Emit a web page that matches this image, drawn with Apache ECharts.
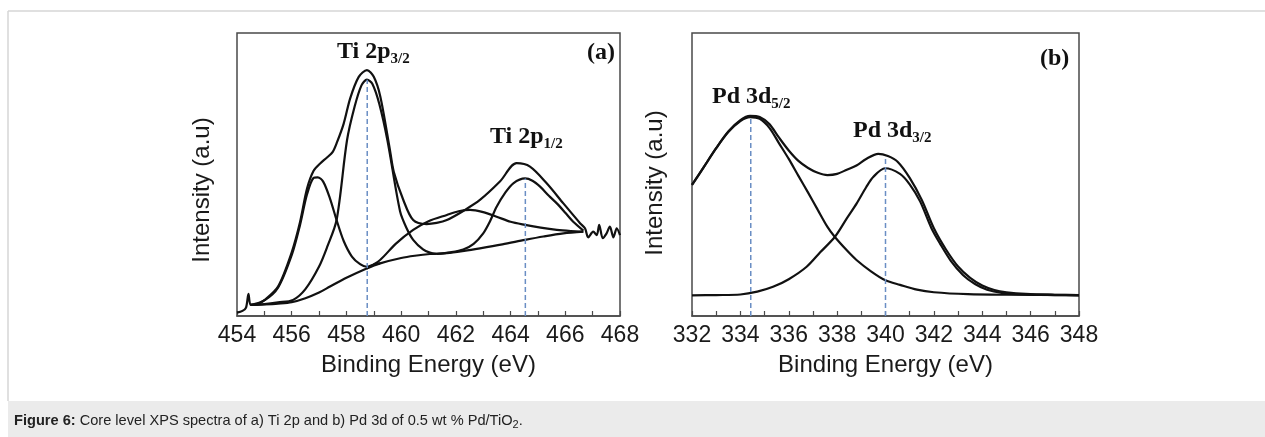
<!DOCTYPE html>
<html><head><meta charset="utf-8">
<script src="https://cdn.jsdelivr.net/npm/echarts@6/dist/echarts.min.js"></script>
<style>html,body{margin:0;padding:0;background:#fff}#c{width:1265px;height:437px}</style>
</head><body><div id="c"></div>
<script>
// ---------- Panel (a): Ti 2p ----------
const tiEnvelope = [[454.0,1.2],[454.2,1.8],[454.33,3.0],[454.42,7.8],[454.5,3.9],[454.7,4.0],[455.0,5.6],[455.5,10.4],[456.0,22.5],[456.3,33],[456.56,45.0],[456.8,51.3],[457.05,54.0],[457.29,56.0],[457.5,58],[457.66,61.5],[457.9,68],[458.14,77],[458.45,84.5],[458.75,86.9],[459.0,84.5],[459.24,77.5],[459.59,58.7],[459.73,51],[460.08,41.0],[460.44,33.9],[460.93,32.5],[461.3,32.9],[461.67,33.9],[462.3,37.3],[462.88,41.0],[463.61,47.5],[464.22,54.0],[464.71,52.8],[465.32,46.9],[465.93,39.8],[466.54,32.8],[466.72,31.0],[466.84,27.8],[467.02,29.8],[467.15,28.6],[467.24,32.2],[467.37,27.5],[467.51,29.2],[467.63,31.6],[467.76,27.8],[467.88,31.0],[468.0,28.6]];
const tiBackground = [[454.5,3.9],[455.0,4.1],[455.5,4.4],[456.0,4.9],[456.5,6.3],[457.0,8.3],[457.4,10.4],[458.0,13.5],[458.74,16.8],[459.23,18.6],[460.0,20.5],[460.5,21.3],[461.05,21.9],[461.67,22.2],[462.3,23.0],[462.88,23.9],[463.7,25.3],[464.53,26.9],[465.2,28.1],[465.93,29.2],[466.66,29.8]];
const tiPeak1 = [[454.5,3.9],[455.0,5.5],[455.5,10.0],[456.0,21.5],[456.3,32],[456.56,43],[456.8,48.8],[456.95,49.0],[457.15,47.5],[457.4,41.5],[457.64,33.9],[457.9,26.5],[458.2,21],[458.5,18.3],[458.74,17.4],[459.0,18.2],[459.23,18.6]];
const tiPeak2 = [[454.5,3.9],[455.0,4.2],[455.5,4.8],[456.05,5.7],[456.5,9.5],[457.0,17.5],[457.3,24.5],[457.64,33.9],[458.02,62],[458.3,74],[458.55,81.5],[458.75,83.5],[458.95,82],[459.2,75],[459.5,62],[459.96,37],[460.2,31],[460.44,26.9],[460.8,23.5],[461.05,22.4],[461.3,21.9]];
const tiPeak3 = [[458.74,16.8],[459.23,19.8],[459.8,25.5],[460.44,30.4],[461.0,33.5],[461.67,35.7],[462.1,37.0],[462.52,37.5],[463.0,36.7],[463.49,35.1],[464.0,33.3],[464.53,32.2],[465.1,31.2],[465.69,30.4],[466.2,30.0],[466.66,29.8]];
const tiPeak4 = [[461.3,21.9],[461.8,22.5],[462.27,23.5],[462.65,25.5],[463.0,29.2],[463.25,33.5],[463.49,38.6],[463.8,43.5],[464.1,46.9],[464.53,48.6],[464.8,47.8],[465.08,45.7],[465.4,42.5],[465.69,39.8],[466.0,36.5],[466.29,33.3],[466.66,30.2]];
const tiDashX = [458.76, 464.54];
const tiDashTop = [83.5, 48.6];
const tiRange = [454, 468];

// ---------- Panel (b): Pd 3d ----------
const pdEnvelope = [[332.0,46.3],[332.5,52.8],[333.0,59.3],[333.5,65.2],[334.0,69.2],[334.4,70.7],[334.8,70.3],[335.2,67.8],[335.6,63.0],[336.0,58.5],[336.4,54.8],[336.8,52.3],[337.2,50.6],[337.6,49.8],[338.0,50.2],[338.4,51.7],[338.8,53.2],[339.2,55.5],[339.7,57.3],[340.1,56.5],[340.5,54.5],[341.0,48.8],[341.5,41.0],[342.0,31.0],[342.5,23.5],[343.0,17.5],[343.5,13.5],[344.0,10.8],[344.5,9.2],[345.0,8.4],[345.8,7.8],[347.0,7.5],[348.0,7.4]];
const pd52 = [[332.0,46.3],[332.5,52.8],[333.0,59.3],[333.5,65.0],[334.0,68.9],[334.4,70.3],[334.8,69.7],[335.2,66.5],[335.6,61.0],[336.0,55.5],[336.4,49.5],[336.8,43.6],[337.2,37.5],[337.6,31.5],[337.9,28.0],[338.4,23.2],[338.8,19.8],[339.4,15.8],[340.0,12.6],[340.6,11.0],[341.3,9.3],[342.0,8.4],[343.4,7.7],[345.0,7.5],[348.0,7.4]];
const pd32 = [[332.0,7.3],[333.0,7.4],[334.0,7.6],[334.7,8.6],[335.35,10.3],[336.0,13.0],[336.74,17.4],[337.3,22.5],[337.91,28.0],[338.4,34.5],[338.81,39.8],[339.2,45.5],[339.5,49.2],[339.98,52.2],[340.6,50.2],[341.0,46.5],[341.43,40.5],[341.9,31.0],[342.26,25.5],[342.7,19.5],[343.2,14.5],[343.7,11.3],[344.2,9.3],[344.8,8.2],[345.8,7.6],[347.0,7.4],[348.0,7.3]];
const pdDashX = [334.43, 340.0];
const pdDashTop = [70.5, 56.5];
const pdRange = [332, 348];

const xAxisTitle = 'Binding Energy (eV)';
const yAxisTitle = 'Intensity (a.u)';
const captionBold = 'Figure 6:';
const captionText = ' Core level XPS spectra of a) Ti 2p and b) Pd 3d of 0.5 wt % Pd/TiO';
const captionSub = '2';
const captionEnd = '.';

// ---------- helpers ----------
const mctx = document.createElement('canvas').getContext('2d');
function textW(str, font) { mctx.font = font; return mctx.measureText(str).width; }
const SERIF = '"Liberation Serif", "Times New Roman", serif';
const SANS = '"Liberation Sans", Arial, sans-serif';

function txt(x, y, text, font, fill) {
  return {
    type: 'text', x: x, y: y, silent: true,
    style: { text: text, font: font, fill: fill || '#111', align: 'left', verticalAlign: 'middle',
             textAlign: 'left', textVerticalAlign: 'middle' }
  };
}
function subLabel(x, y, main, sub) {
  const f1 = 'bold 24px ' + SERIF, f2 = 'bold 15px ' + SERIF;
  const w = textW(main, f1);
  return [txt(x, y, main, f1), txt(x + w, y + 7, sub, f2)];
}

const chart = echarts.init(document.getElementById('c'), null, { renderer: 'canvas' });

const AXC = '#4a4a4a';
function mkX(idx, range) {
  return {
    type: 'value', gridIndex: idx, min: range[0], max: range[1], interval: 1,
    name: xAxisTitle, nameLocation: 'middle', nameGap: 37,
    nameTextStyle: { fontSize: 24, fontFamily: SANS, color: '#1a1a1a' },
    axisLine: { show: true, lineStyle: { color: AXC, width: 1.5 } },
    axisTick: { show: true, inside: true, length: 5, lineStyle: { color: AXC, width: 1.2 } },
    axisLabel: { margin: 8, fontSize: 23, fontFamily: SANS, color: '#1a1a1a',
                 formatter: v => (v % 2 === 0 ? String(v) : '') },
    splitLine: { show: false }
  };
}
function mkY(idx) {
  return { type: 'value', gridIndex: idx, min: 0, max: 100,
    axisLine: { show: false }, axisTick: { show: false }, axisLabel: { show: false }, splitLine: { show: false } };
}
function curve(idx, data) {
  return { type: 'line', xAxisIndex: idx, yAxisIndex: idx, data: data, showSymbol: false, smooth: 0.3,
    silent: true, lineStyle: { color: '#111', width: 2.2 }, z: 3 };
}
function dashes(idx, xs, tops) {
  return xs.map((x, i) => ({ type: 'line', xAxisIndex: idx, yAxisIndex: idx, data: [[x, 0], [x, tops[i]]],
    showSymbol: false, silent: true, lineStyle: { color: '#6a8ec4', width: 1.5, type: [5, 3] }, z: 4 }));
}

// caption pieces
const capFontB = 'bold 14.6px ' + SANS, capFont = '14.6px ' + SANS, capSubFont = '11px ' + SANS;
let cx = 14;
const capY = 421;
const captionEls = [];
captionEls.push(txt(cx, capY, captionBold, capFontB, '#222'));
cx += textW(captionBold, capFontB);
captionEls.push(txt(cx, capY, captionText, capFont, '#222'));
cx += textW(captionText, capFont);
captionEls.push(txt(cx, capY + 4, captionSub, capSubFont, '#222'));
cx += textW(captionSub, capSubFont);
captionEls.push(txt(cx, capY, captionEnd, capFont, '#222'));

const yNameFont = '24px ' + SANS;
const graphics = [
  { type: 'rect', shape: { x: 8, y: 401, width: 1257, height: 36 }, style: { fill: '#ebebeb' }, silent: true, z: -10 },
  { type: 'line', shape: { x1: 8, y1: 11, x2: 1265, y2: 11 }, style: { stroke: '#d6d6d6', lineWidth: 1.5 }, silent: true },
  { type: 'line', shape: { x1: 8, y1: 11, x2: 8, y2: 401 }, style: { stroke: '#d6d6d6', lineWidth: 1.5 }, silent: true },
  { type: 'text', x: 202, y: 190, rotation: Math.PI / 2, silent: true,
    style: { text: yAxisTitle, font: yNameFont, fill: '#1a1a1a', align: 'center', verticalAlign: 'middle', textAlign: 'center', textVerticalAlign: 'middle' } },
  { type: 'text', x: 655, y: 183, rotation: Math.PI / 2, silent: true,
    style: { text: yAxisTitle, font: yNameFont, fill: '#1a1a1a', align: 'center', verticalAlign: 'middle', textAlign: 'center', textVerticalAlign: 'middle' } },
  txt(587, 53, '(a)', 'bold 24px ' + SERIF),
  txt(1040, 59, '(b)', 'bold 24px ' + SERIF),
  ...subLabel(337, 52, 'Ti 2p', '3/2'),
  ...subLabel(490, 137, 'Ti 2p', '1/2'),
  ...subLabel(712, 97, 'Pd 3d', '5/2'),
  ...subLabel(853, 131, 'Pd 3d', '3/2'),
  ...captionEls
];

chart.setOption({
  animation: false,
  backgroundColor: '#fff',
  grid: [
    { left: 237, top: 33, width: 383, height: 283, show: true, borderColor: AXC, borderWidth: 1.5, containLabel: false, outerBoundsMode: 'none' },
    { left: 692, top: 33, width: 387, height: 283, show: true, borderColor: AXC, borderWidth: 1.5, containLabel: false, outerBoundsMode: 'none' }
  ],
  xAxis: [mkX(0, tiRange), mkX(1, pdRange)],
  yAxis: [mkY(0), mkY(1)],
  series: [
    curve(0, tiBackground), curve(0, tiPeak1), curve(0, tiPeak2), curve(0, tiPeak3), curve(0, tiPeak4), curve(0, tiEnvelope),
    ...dashes(0, tiDashX, tiDashTop),
    curve(1, pd52), curve(1, pd32), curve(1, pdEnvelope),
    ...dashes(1, pdDashX, pdDashTop)
  ],
  graphic: graphics
});
</script>
</body></html>
